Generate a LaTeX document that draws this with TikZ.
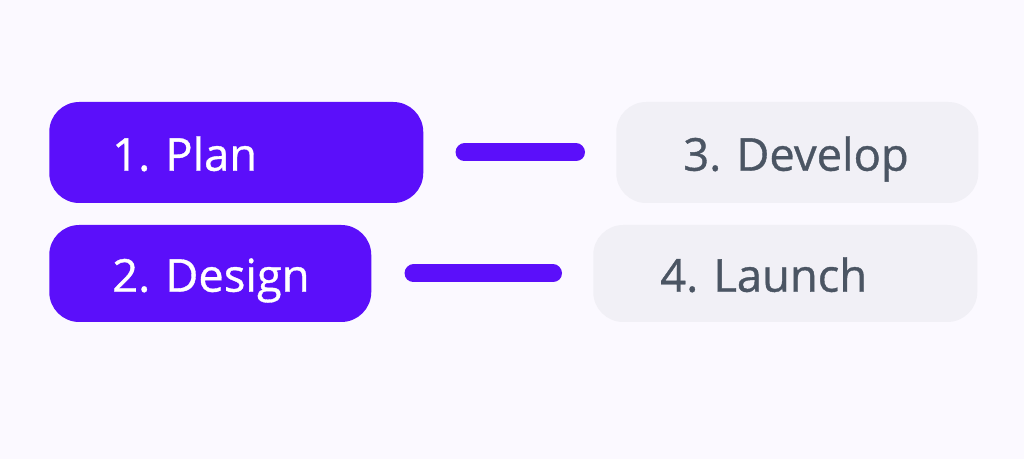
\documentclass[tikz,border=0pt]{standalone}
\usepackage{fontspec}
\setmainfont{Open Sans}
\newfontfamily\stepfont[FakeBold=0.8]{Open Sans}
\usetikzlibrary{positioning}
\usetikzlibrary{calc}
\definecolor{stepviolet}{HTML}{5B0FFA}
\definecolor{stepgrey}{HTML}{F1F0F6}
\definecolor{stepink}{HTML}{4B5563}
\definecolor{pagebg}{HTML}{FBF9FF}
\tikzstyle{stepbox}=[rectangle,rounded corners=22.5pt,anchor=west,align=left,inner xsep=47.25pt,inner ysep=0pt,text height=27.3pt,text depth=0pt,font=\stepfont\fontsize{34}{40}\selectfont\frenchspacing]
\tikzstyle{donebox}=[stepbox,fill=stepviolet,text=white]
\tikzstyle{todobox}=[stepbox,fill=stepgrey,text=stepink,inner xsep=50.25pt]
\tikzstyle{link}=[line width=13.5pt,line cap=round,draw=stepviolet]

\begin{document}
\begin{tikzpicture}[x=0.75pt,y=-0.75pt]

  \fill[pagebg] (0,0) rectangle (1024,459);
  \useasboundingbox (0,0) rectangle (1024,459);

  \node[donebox,text width=186pt,minimum height=75.75pt] (plan) at (49,152.5) {\mbox{1. Plan}};
  \node[donebox,text width=147pt,minimum height=72.75pt] (design) at (49,273.5) {\mbox{2. Design}};
  \node[todobox,text width=171pt,minimum height=75.75pt] (develop) at (616,152.5) {\mbox{3. Develop}};
  \node[todobox,text width=187.5pt,minimum height=72.75pt] (launch) at (593,273.5) {\mbox{4. Launch}};

% links between the two columns
  \draw[link] ([xshift=30.75pt]plan.east) -- ([xshift=-30pt]develop.west);
  \draw[link] ([xshift=31.5pt]design.east) -- ([xshift=-30pt]launch.west);

\end{tikzpicture}
\end{document}
